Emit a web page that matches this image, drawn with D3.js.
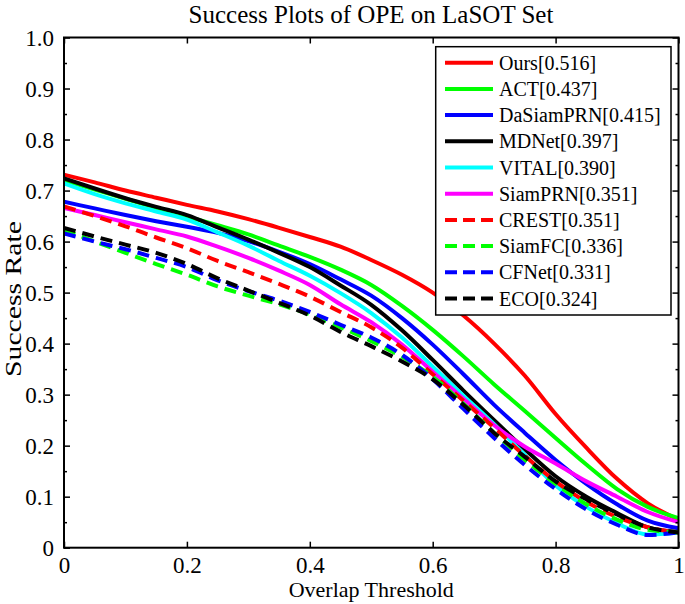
<!DOCTYPE html>
<html><head><meta charset="utf-8">
<script src="https://cdn.jsdelivr.net/npm/d3@7"></script>
<style>body{margin:0;background:#fff}svg{display:block}</style>
</head><body>
<script>
const thresholds = d3.range(0, 21).map(i => i / 20);
const names = ["Ours","ACT","DaSiamPRN","MDNet","VITAL","SiamPRN","CREST","SiamFC","CFNet","ECO"];
const scores = ["0.516","0.437","0.415","0.397","0.390","0.351","0.351","0.336","0.331","0.324"];
const colors = ["#ff0000","#00ff00","#0000ff","#000000","#00ffff","#ff00ff","#ff0000","#00ff00","#0000ff","#000000"];
const dashed = [false,false,false,false,false,false,true,true,true,true];
const ours     = [0.731,0.716,0.700,0.686,0.672,0.659,0.644,0.627,0.609,0.590,0.564,0.535,0.500,0.455,0.400,0.337,0.262,0.196,0.135,0.087,0.055];
const act      = [0.720,0.702,0.684,0.666,0.649,0.632,0.614,0.592,0.570,0.545,0.515,0.474,0.427,0.375,0.320,0.268,0.215,0.163,0.115,0.080,0.058];
const dasiam   = [0.678,0.665,0.652,0.640,0.629,0.617,0.601,0.580,0.556,0.526,0.494,0.450,0.398,0.340,0.280,0.225,0.172,0.125,0.085,0.053,0.038];
const mdnet    = [0.724,0.704,0.685,0.668,0.652,0.628,0.604,0.578,0.550,0.514,0.476,0.426,0.368,0.308,0.250,0.193,0.140,0.100,0.068,0.040,0.031];
const vital    = [0.714,0.693,0.675,0.659,0.643,0.618,0.592,0.562,0.533,0.499,0.460,0.412,0.355,0.298,0.242,0.182,0.122,0.080,0.048,0.026,0.030];
const siamrpn  = [0.666,0.652,0.638,0.624,0.610,0.590,0.568,0.543,0.515,0.477,0.442,0.398,0.345,0.292,0.240,0.198,0.165,0.130,0.100,0.070,0.050];
const crest    = [0.669,0.650,0.630,0.608,0.587,0.562,0.540,0.517,0.492,0.462,0.432,0.392,0.340,0.288,0.235,0.180,0.130,0.090,0.060,0.040,0.030];
const siamfc   = [0.623,0.600,0.578,0.556,0.535,0.512,0.494,0.477,0.457,0.432,0.405,0.374,0.335,0.282,0.225,0.172,0.125,0.085,0.055,0.035,0.030];
const cfnet    = [0.616,0.600,0.585,0.568,0.550,0.524,0.503,0.484,0.462,0.437,0.412,0.378,0.330,0.272,0.215,0.162,0.115,0.075,0.045,0.025,0.030];
const eco      = [0.627,0.610,0.594,0.578,0.556,0.528,0.504,0.480,0.455,0.423,0.395,0.365,0.330,0.280,0.225,0.178,0.130,0.095,0.065,0.040,0.030];
const seriesValues = [ours,act,dasiam,mdnet,vital,siamrpn,crest,siamfc,cfnet,eco];
const xTicks = [0,0.2,0.4,0.6,0.8,1];
const xTickLabels = ["0","0.2","0.4","0.6","0.8","1"];
const yTicks = [0,0.1,0.2,0.3,0.4,0.5,0.6,0.7,0.8,0.9,1.0];
const yTickLabels = ["0","0.1","0.2","0.3","0.4","0.5","0.6","0.7","0.8","0.9","1.0"];
const yMinor = [0.05,0.15,0.25,0.35,0.45,0.55,0.65,0.75,0.85,0.95];

const W = 685, H = 604;
const m = {left:64, right:6.5, top:37.5, bottom:56.3};
const font = "'Liberation Serif','Times New Roman',serif";
const svg = d3.select("body").append("svg").attr("width", W).attr("height", H);
const x = d3.scaleLinear().domain([0,1]).range([m.left, W - m.right]);
const y = d3.scaleLinear().domain([0,1]).range([H - m.bottom, m.top]);

svg.append("clipPath").attr("id","clip").append("rect")
  .attr("x", x(0)).attr("y", y(1)).attr("width", x(1)-x(0)).attr("height", y(0)-y(1));

const line = d3.line().curve(d3.curveMonotoneX).x((d,i) => x(thresholds[i])).y(d => y(d));
const plotG = svg.append("g").attr("clip-path","url(#clip)");
seriesValues.forEach((vals, k) => {
  plotG.append("path").datum(vals).attr("d", line)
    .attr("fill","none").attr("stroke", colors[k]).attr("stroke-width", 4)
    .attr("stroke-linejoin","round")
    .attr("stroke-dasharray", dashed[k] ? "12,7" : null);
});

const axStyle = sel => { sel.select(".domain").remove(); sel.selectAll("line").attr("stroke","#000").attr("stroke-width",1.5); };
const axB = svg.append("g").attr("transform",`translate(0,${y(0)})`)
  .call(d3.axisBottom(x).tickValues(xTicks).tickFormat((d,i)=>xTickLabels[i]).tickSizeInner(-6).tickSizeOuter(0).tickPadding(9));
axB.call(axStyle);
axB.selectAll("text").attr("font-family",font).attr("font-size",23).attr("fill","#000").attr("dy","0.71em");
const axT = svg.append("g").attr("transform",`translate(0,${y(1)})`)
  .call(d3.axisTop(x).tickValues(xTicks).tickFormat("").tickSizeInner(-6).tickSizeOuter(0));
axT.call(axStyle);
const axL = svg.append("g").attr("transform",`translate(${x(0)},0)`)
  .call(d3.axisLeft(y).tickValues(yTicks).tickFormat((d,i)=>yTickLabels[i]).tickSizeInner(-6).tickSizeOuter(0).tickPadding(10));
axL.call(axStyle);
axL.selectAll("text").attr("font-family",font).attr("font-size",23).attr("fill","#000").attr("dy","0.34em");
const axLm = svg.append("g").attr("transform",`translate(${x(0)},0)`)
  .call(d3.axisLeft(y).tickValues(yMinor).tickFormat("").tickSizeInner(-3).tickSizeOuter(0));
axLm.call(axStyle);
const axR = svg.append("g").attr("transform",`translate(${x(1)},0)`)
  .call(d3.axisRight(y).tickValues(yTicks).tickFormat("").tickSizeInner(-6).tickSizeOuter(0));
axR.call(axStyle);
const axRm = svg.append("g").attr("transform",`translate(${x(1)},0)`)
  .call(d3.axisRight(y).tickValues(yMinor).tickFormat("").tickSizeInner(-3).tickSizeOuter(0));
axRm.call(axStyle);

svg.append("rect").attr("x", x(0)).attr("y", y(1)).attr("width", x(1)-x(0)).attr("height", y(0)-y(1))
  .attr("fill","none").attr("stroke","#000").attr("stroke-width",2);

svg.append("text").attr("x", 371).attr("y", 23).attr("text-anchor","middle")
  .attr("font-family",font).attr("font-size",25).text("Success Plots of OPE on LaSOT Set");
svg.append("text").attr("x", (x(0)+x(1))/2).attr("y", 597).attr("text-anchor","middle")
  .attr("font-family",font).attr("font-size",22).text("Overlap Threshold");
svg.append("text").attr("transform",`translate(21,299) rotate(-90)`).attr("text-anchor","middle")
  .attr("font-family",font).attr("font-size",23)
  .attr("textLength",156).attr("lengthAdjust","spacingAndGlyphs").text("Success Rate");

const lg = svg.append("g");
lg.append("rect").attr("x",435.7).attr("y",46.7).attr("width",671-435.7).attr("height",315-46.7)
  .attr("fill","#fff").attr("stroke","#000").attr("stroke-width",1.5);
names.forEach((n,k) => {
  const yy = 62.7 + k*26.2;
  lg.append("line").attr("x1",445).attr("x2",493).attr("y1",yy).attr("y2",yy)
    .attr("stroke",colors[k]).attr("stroke-width",4)
    .attr("stroke-dasharray", dashed[k] ? "12,6" : null);
  lg.append("text").attr("x",499).attr("y",yy+7).attr("font-family",font).attr("font-size",20)
    .text(`${n}[${scores[k]}]`);
});
</script>
</body></html>
